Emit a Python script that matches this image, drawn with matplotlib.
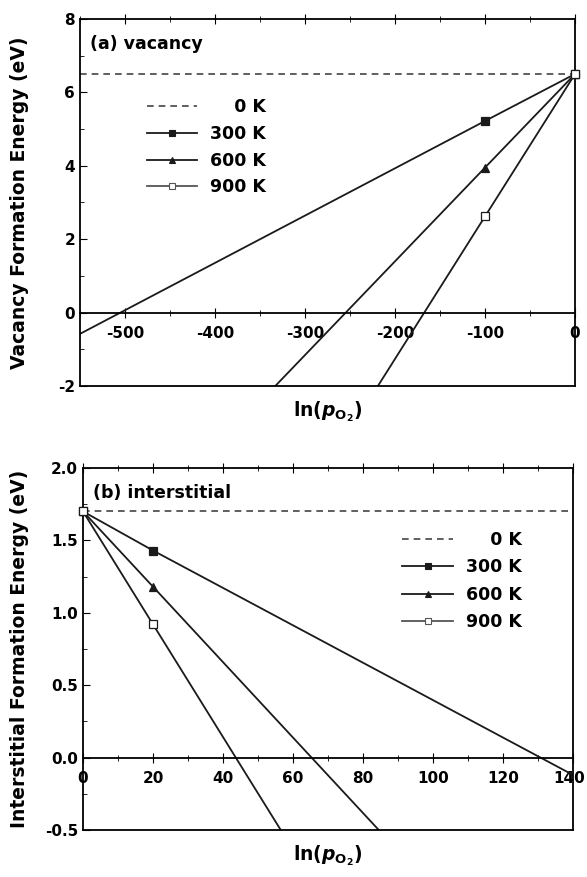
import matplotlib
matplotlib.use("Agg")
import matplotlib.pyplot as plt
import matplotlib.transforms as mtransforms
from matplotlib.lines import Line2D
from matplotlib.ticker import MultipleLocator, FormatStrFormatter

plt.rcParams["font.family"] = ["DejaVu Sans"]
plt.rcParams["font.weight"] = "bold"
plt.rcParams["axes.unicode_minus"] = False
plt.rcParams["mathtext.fontset"] = "dejavusans"

# ---- data ----
labels = ["\u2007\u20070 K", "300 K", "600 K", "900 K"]

# (a) vacancy: line ends and marked points
vac_x_0 = [-550, 0]
vac_y_0 = [6.5, 6.5]
vac_x_300 = [-550, -100, 0]
vac_y_300 = [-0.58, 5.22, 6.5]
vac_x_600 = [-333, -100, 0]
vac_y_600 = [-2.0, 3.95, 6.5]
vac_x_900 = [-219, -100, 0]
vac_y_900 = [-2.0, 2.62, 6.5]

# (b) interstitial
int_x_0 = [0, 140]
int_y_0 = [1.7, 1.7]
int_x_300 = [0, 20, 140]
int_y_300 = [1.7, 1.43, -0.12]
int_x_600 = [0, 20, 84.5]
int_y_600 = [1.7, 1.18, -0.5]
int_x_900 = [0, 20, 56.5]
int_y_900 = [1.7, 0.92, -0.5]

line_col = "#1a1a1a"
dash_col = "#444444"
markers = [None, "s", "^", "s"]
fills = [None, line_col, line_col, "white"]


def draw_panel(ax, xs, ys, marked):
    ax.plot(xs[0], ys[0], ls=(0, (4, 3)), color=dash_col, lw=1.2)
    for i in range(1, 4):
        ax.plot(xs[i], ys[i], color=line_col, lw=1.3)
    for i in range(1, 4):
        mx = [xs[i][k] for k in marked]
        my = [ys[i][k] for k in marked]
        ax.plot(mx, my, ls="none", marker=markers[i], ms=6,
                mfc=fills[i], mec=line_col, mew=0.9,
                clip_on=False, zorder=5)


def legend_handles():
    hs = [Line2D([], [], ls=(0, (4, 3)), color=dash_col, lw=1.2)]
    for i in range(1, 4):
        c = "#555555" if i == 3 else line_col
        hs.append(Line2D([], [], color=c, lw=1.3, marker=markers[i],
                         ms=5, mfc=fills[i], mec=c, mew=0.8))
    return hs


def style_axes(ax):
    ax.spines["bottom"].set_position(("data", 0))
    for s in ax.spines.values():
        s.set_linewidth(1.3)
    # frame line along the lower edge
    ax.plot([0, 1], [0, 0], transform=ax.transAxes, color="k", lw=1.3,
            clip_on=False)
    ax.tick_params(axis="both", which="both", direction="in",
                   labelsize=11, top=True, right=False)
    ax.tick_params(axis="x", which="major", direction="inout", length=7)
    ax.tick_params(axis="x", which="minor", direction="inout", length=4)
    ax.tick_params(axis="y", which="major", length=5)
    ax.tick_params(axis="y", which="minor", length=3)
    ax.tick_params(axis="x", which="both", pad=6.5)
    for t in ax.get_xticklabels() + ax.get_yticklabels():
        t.set_fontweight("bold")


xlab = r"ln($\mathit{p}_{\mathrm{O_2}}$)"
leg_kw = dict(loc="upper left", frameon=False, numpoints=1,
              handlelength=2.9, handletextpad=0.75,
              borderaxespad=0.5, prop=dict(size=12.5, weight="bold"))

fig = plt.figure(figsize=(5.87, 8.77), dpi=100)

# ---- (a) vacancy ----
ax1 = fig.add_axes([0.1363, 0.5599, 0.8433, 0.4185])
draw_panel(ax1, [vac_x_0, vac_x_300, vac_x_600, vac_x_900],
           [vac_y_0, vac_y_300, vac_y_600, vac_y_900], [1, 2])
ax1.set_xlim(-550, 0)
ax1.set_ylim(-2, 8)
ax1.xaxis.set_major_locator(MultipleLocator(100))
ax1.xaxis.set_minor_locator(MultipleLocator(50))
ax1.yaxis.set_major_locator(MultipleLocator(2))
ax1.yaxis.set_minor_locator(MultipleLocator(1))
style_axes(ax1)
ax1.set_ylabel("Vacancy Formation Energy (eV)", fontsize=13.5,
               fontweight="bold")
ax1.yaxis.set_label_coords(-0.103, 0.5)
ax1.set_xlabel(xlab, fontsize=13.5, fontweight="bold")
ax1.xaxis.set_label_coords(0.5, -0.036)
ax1.text(0.02, 0.955, "(a) vacancy", transform=ax1.transAxes,
         fontsize=12.5, fontweight="bold", va="top")
ax1.legend(legend_handles(), labels, bbox_to_anchor=(0.104, 0.826),
           labelspacing=0.5, **leg_kw)

# ---- (b) interstitial ----
ax2 = fig.add_axes([0.1414, 0.0536, 0.8348, 0.4128])
draw_panel(ax2, [int_x_0, int_x_300, int_x_600, int_x_900],
           [int_y_0, int_y_300, int_y_600, int_y_900], [0, 1])
ax2.set_xlim(0, 140)
ax2.set_ylim(-0.5, 2.0)
ax2.xaxis.set_major_locator(MultipleLocator(20))
ax2.xaxis.set_minor_locator(MultipleLocator(10))
ax2.yaxis.set_major_locator(MultipleLocator(0.5))
ax2.yaxis.set_minor_locator(MultipleLocator(0.25))
ax2.yaxis.set_major_formatter(FormatStrFormatter("%.1f"))
style_axes(ax2)
ax2.set_ylabel("Interstitial Formation Energy (eV)", fontsize=13.5,
               fontweight="bold")
ax2.yaxis.set_label_coords(-0.110, 0.5)
ax2.set_xlabel(xlab, fontsize=13.5, fontweight="bold")
ax2.xaxis.set_label_coords(0.5, -0.038)
ax2.text(0.02, 0.955, "(b) interstitial", transform=ax2.transAxes,
         fontsize=12.5, fontweight="bold", va="top")
ax2.legend(legend_handles(), labels, bbox_to_anchor=(0.62, 0.87),
           labelspacing=0.55, **leg_kw)

# keep the "140" label inside the canvas edge
shift = mtransforms.ScaledTranslation(-3 / 72, 0, fig.dpi_scale_trans)
for loc, tick in zip(ax2.xaxis.get_majorticklocs(),
                     ax2.xaxis.get_major_ticks()):
    if abs(loc - 140) < 1e-6:
        tick.label1.set_transform(tick.label1.get_transform() + shift)

fig.savefig("out.png", dpi=100)
